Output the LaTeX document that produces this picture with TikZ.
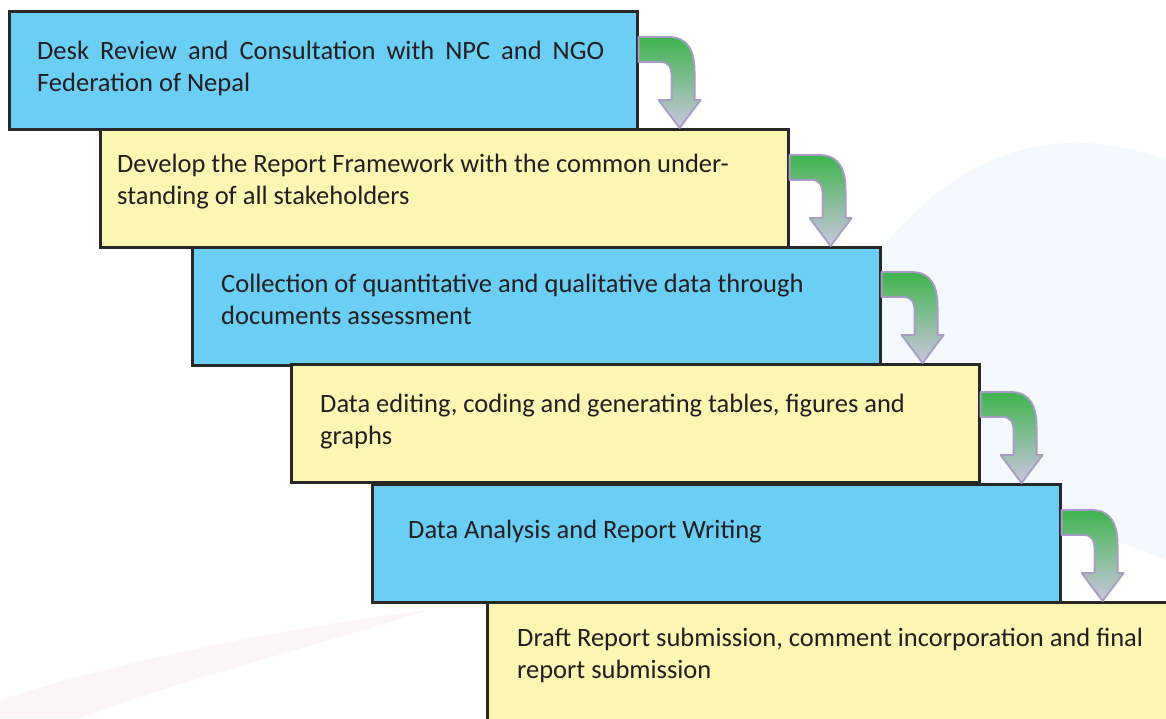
\documentclass[tikz,border=0pt]{standalone}
\usepackage{fontspec}
\setmainfont{Carlito}
\usepackage{xcolor}
\usepackage{tikz}
\usetikzlibrary{positioning}

\definecolor{stepblue}{RGB}{106,206,245}
\definecolor{stepyellow}{RGB}{251,246,178}
\definecolor{framegrey}{RGB}{40,40,40}
\definecolor{textgrey}{RGB}{35,31,32}
\definecolor{arrowgreen}{RGB}{62,180,78}
\definecolor{arrowgrey}{RGB}{202,198,222}
\definecolor{arrowedge}{RGB}{168,155,200}
\definecolor{paleblue}{RGB}{243,249,254}
\definecolor{palepink}{RGB}{250,238,244}

\begin{document}
\begin{tikzpicture}[
  x=1pt, y=-1pt,
  etape/.style  = {draw=framegrey, line width=2.6pt, anchor=north west,
                   minimum height=118pt, minimum width=688pt, inner sep=0pt},
  bleu/.style   = {etape, fill=stepblue},
  jaune/.style  = {etape, fill=stepyellow},
  libelle/.style= {anchor=base west, inner sep=0pt, align=left, text=textgrey,
                   font=\fontsize{26.5}{31.5}\selectfont},
  fleche/.pic   = {
    \path[top color=arrowgreen, bottom color=arrowgrey, draw=arrowedge,
          line width=1.8pt, line join=round]
      (0,-91) -- (30,-91) .. controls (50,-91) and (56,-76) .. (56,-56)
      -- (56,-28) -- (62,-28) -- (41,0) -- (20,-28) -- (33,-28) -- (33,-50)
      .. controls (33,-61) and (30,-66) .. (22,-66) -- (0,-66) -- cycle;
  }
]
\useasboundingbox (0,0) rectangle (1166,718);
\clip (0,0) rectangle (1166,718);
% faint background
\fill[paleblue] (880,250) .. controls (960,150) and (1060,120) .. (1166,160)
  -- (1166,560) .. controls (1080,520) and (960,520) .. (880,560) -- cycle;
\fill[palepink, opacity=.5] (0,700) .. controls (120,660) and (300,625) .. (430,610)
  .. controls (300,650) and (150,690) .. (80,718) -- (0,718) -- cycle;

% boxes
\node[bleu,  minimum width=628pt] (b1) at (8,10)    {};
\node[jaune] (b2) at (99,128)  {};
\node[bleu]  (b3) at (191,246) {};
\node[jaune] (b4) at (290,363) {};
\node[bleu]  (b5) at (371,483) {};
\node[jaune, minimum width=720pt, minimum height=140pt] (b6) at (486,601) {};

% arrows between steps
\pic at (b1.east |- b2.north) {fleche};
\pic at (b2.east |- b3.north) {fleche};
\pic at (b3.east |- b4.north) {fleche};
\pic at (b4.east |- b5.north) {fleche};
\pic at (b5.east |- b6.north) {fleche};

% labels (base = last line)
\node[libelle] (t1) at (37,91)   {\makebox[567pt][s]{Desk Review and Consultation with NPC and NGO}\\Federation of Nepal};
\node[libelle] (t2) at (117,204) {Develop the Report Framework with the common under-\\standing of all stakeholders};
\node[libelle] (t3) at (221,324) {Collection of quantitative and qualitative data through\\documents assessment};
\node[libelle] (t4) at (320,444) {Data editing, coding and generating tables, figures and\\graphs};
\node[libelle] (t5) at (408,538) {Data Analysis and Report Writing};
\node[libelle] (t6) at (517,678) {Draft Report submission, comment incorporation and final\\report submission};
\end{tikzpicture}
\end{document}
